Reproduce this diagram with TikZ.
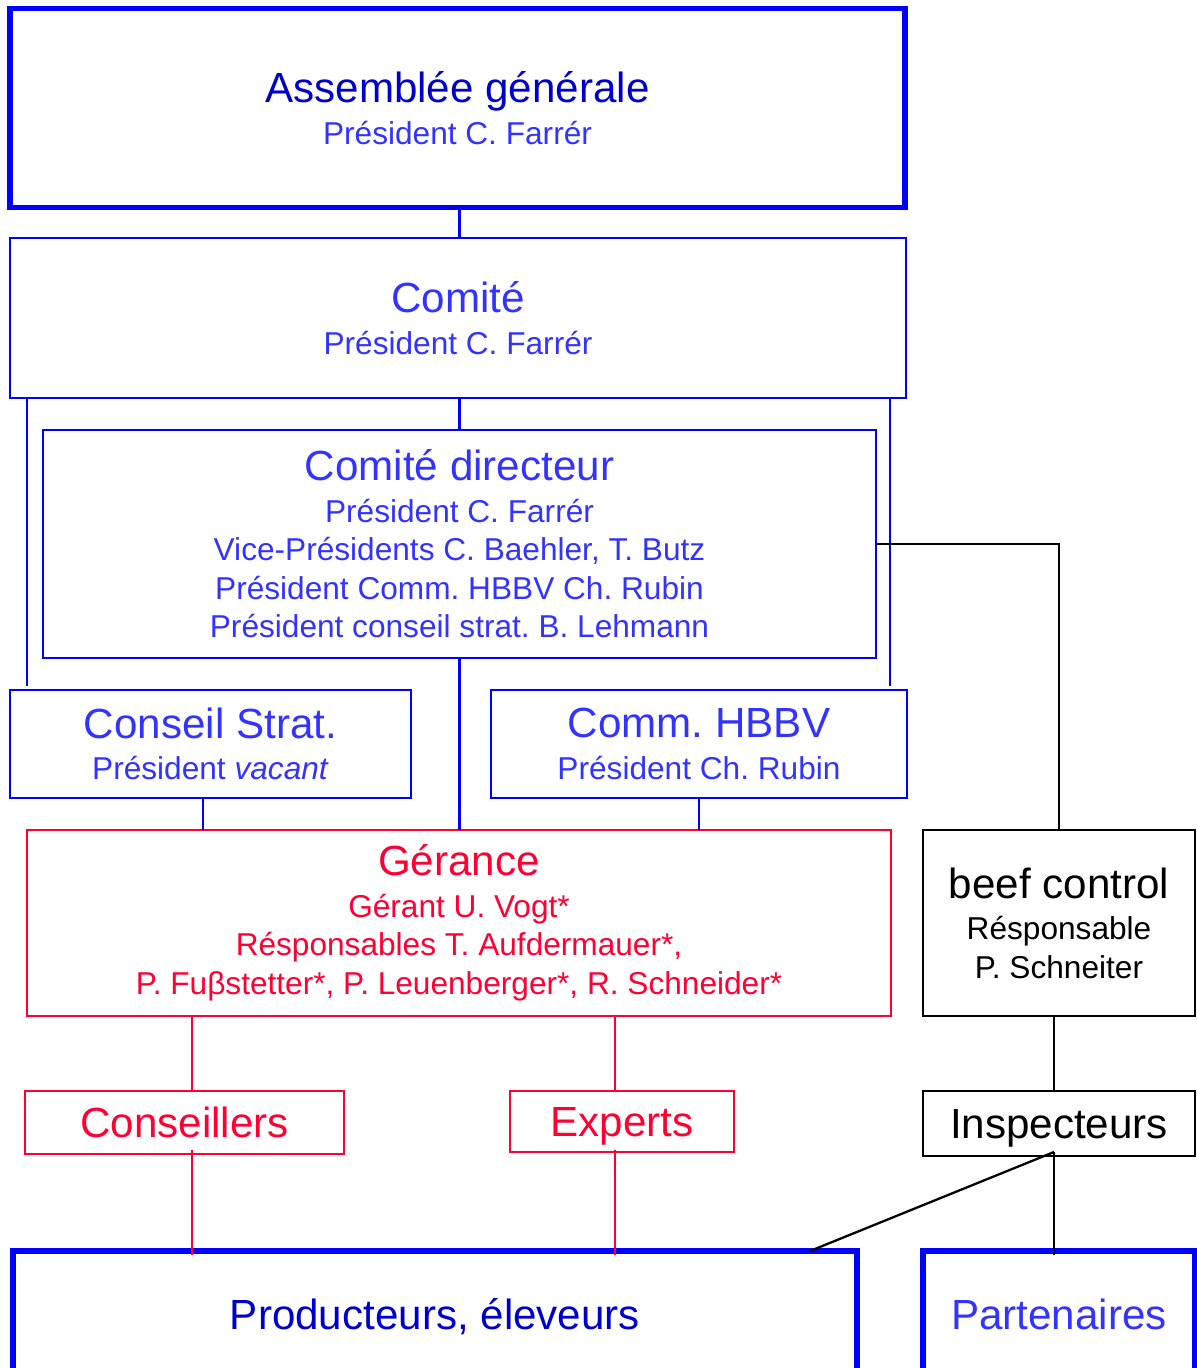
\documentclass[tikz,border=0pt]{standalone}
\usepackage{fontspec}
\setmainfont{Liberation Sans}
\usetikzlibrary{calc}
\frenchspacing

\definecolor{orgblue}{RGB}{0,0,255}
\definecolor{darkblue}{RGB}{0,0,204}
\definecolor{lightblue}{RGB}{51,51,255}
\definecolor{orgred}{RGB}{255,0,51}

\newcommand{\bigtxt}{\fontsize{24}{29}\selectfont}
\newcommand{\subtxt}{\fontsize{18}{22}\selectfont}

\begin{document}
\begin{tikzpicture}[x=0.02cm,y=-0.02cm,
    orgbox/.style={draw,rectangle,inner sep=0pt,outer sep=0pt,align=center,font=\subtxt},
    onerow/.style={font=\bigtxt,text height=17pt,text depth=0pt},
    bluebox/.style={orgbox,orgblue,line width=1.2pt,text=lightblue},
    thickbox/.style={bluebox,line width=3pt},
    redbox/.style={orgbox,orgred,line width=1.2pt,text=orgred},
    blackbox/.style={orgbox,black,line width=1.3pt,text=black},
    bluewire/.style={orgblue,line width=1.2pt},
    redwire/.style={orgred,line width=1.2pt},
    blackwire/.style={black,line width=1.3pt}]
    \useasboundingbox (0,0) rectangle (1196,1368);

    % top of the organisation
    \node[thickbox,minimum width=17.9cm,minimum height=3.98cm] (ag) at (457.5,108)
        {{\bigtxt\color{darkblue}Assemblée générale}\\[1.5pt]Président C. Farrér};
    \node[bluebox,minimum width=17.92cm,minimum height=3.2cm] (comite) at (458,318)
        {{\bigtxt Comité}\\[1.5pt]Président C. Farrér};
    \node[bluebox,minimum width=16.66cm,minimum height=4.56cm] (cd) at (459.5,544)
        {{\bigtxt Comité directeur}\\[1.5pt]Président C. Farrér\\Vice-Présidents C. Baehler, T. Butz\\
         Président Comm. HBBV Ch. Rubin\\Président conseil strat. B. Lehmann};
    \node[bluebox,minimum width=8.02cm,minimum height=2.16cm] (cs) at (210.5,744)
        {{\bigtxt Conseil Strat.}\\[1.5pt]Président \textit{vacant}};
    \node[bluebox,minimum width=8.32cm,minimum height=2.16cm] (hbbv) at (699,744)
        {{\bigtxt Comm. HBBV}\\[1.5pt]Président Ch. Rubin};

    % management
    \node[redbox,minimum width=17.28cm,minimum height=3.72cm] (gerance) at (459,923)
        {{\bigtxt Gérance}\\[1.5pt]Gérant U. Vogt*\\Résponsables T. Aufdermauer*,\\
         P. Fuβstetter*, P. Leuenberger*, R. Schneider*};
    \node[blackbox,minimum width=5.44cm,minimum height=3.72cm] (beef) at (1059,923)
        {{\bigtxt beef control}\\[1.5pt]Résponsable\\P. Schneiter};
    \node[redbox,onerow,minimum width=6.38cm,minimum height=1.26cm] (cons) at (184.5,1122.5) {Conseillers};
    \node[redbox,onerow,minimum width=4.48cm,minimum height=1.22cm] (exp) at (622,1121.5) {Experts};
    \node[blackbox,onerow,minimum width=5.44cm,minimum height=1.3cm] (insp) at (1059,1123.5) {Inspecteurs};

    % base
    \node[thickbox,onerow,minimum width=16.88cm,minimum height=2.56cm,text=darkblue] (prod) at (435,1315)
        {Producteurs, éleveurs};
    \node[thickbox,onerow,minimum width=5.44cm,minimum height=2.56cm] (part) at (1059,1315) {Partenaires};

    \coordinate (xl) at (27,0);
    \coordinate (xr) at (890,0);
    \coordinate (xs) at (203,0);
    \coordinate (xc) at (192,0);
    \coordinate (xe) at (615,0);
    \coordinate (xi) at (1054,0);
    \coordinate (pd) at (810,1251);

    \draw[bluewire] (ag.south -| cd.north) -- (comite.north -| cd.north);
    \draw[bluewire] (comite.south -| cd.north) -- (cd.north);
    \draw[bluewire] (xl |- comite.south) -- ($(xl |- cs.north)+(0,-4)$);
    \draw[bluewire] (xr |- comite.south) -- ($(xr |- hbbv.north)+(0,-4)$);
    \draw[bluewire] (cd.south) -- (cd.south |- gerance.north);
    \draw[bluewire] (xs |- cs.south) -- (xs |- gerance.north);
    \draw[bluewire] (hbbv.south) -- (hbbv.south |- gerance.north);
    \draw[blackwire] (cd.east) -| (beef.north);

    \draw[redwire] (xc |- gerance.south) -- (xc |- cons.north);
    \draw[redwire] ($(xc |- cons.south)+(0,-4)$) -- ($(xc |- prod.north)+(0,4)$);
    \draw[redwire] (xe |- gerance.south) -- (xe |- exp.north);
    \draw[redwire] ($(xe |- exp.south)+(0,-2)$) -- ($(xe |- prod.north)+(0,4)$);

    \draw[blackwire] (xi |- beef.south) -- (xi |- insp.north);
    \draw[blackwire] ($(xi |- insp.south)+(0,-4)$) -- ($(xi |- part.north)+(0,4)$);
    \draw[blackwire] ($(xi |- insp.south)+(0,-4)$) -- (pd);
\end{tikzpicture}
\end{document}
